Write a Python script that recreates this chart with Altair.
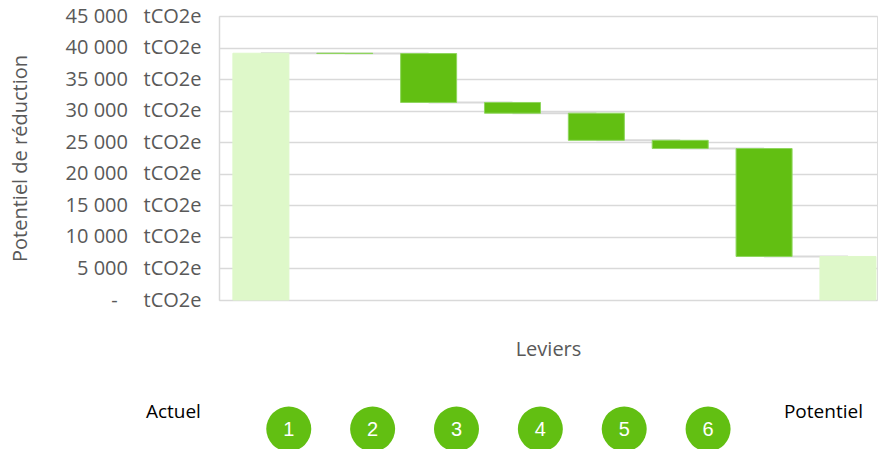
import altair as alt
import pandas as pd

# ---- data ----
categories = ["Actuel", "1", "2", "3", "4", "5", "6", "Potentiel"]
# Actuel total, then reduction of each lever (tCO2e); Potentiel = remainder
actuel_total = 39100
reductions = [50, 7750, 1700, 4300, 1300, 17100]
lever_labels = ["1", "2", "3", "4", "5", "6"]
bottom_labels = ["Actuel", "Potentiel"]

# ---- build waterfall table ----
rows = []
level = actuel_total
rows.append({"cat": "Actuel", "kind": "total", "start": 0, "end": actuel_total})
for lab, r in zip(lever_labels, reductions):
    rows.append({"cat": lab, "kind": "reduction", "start": level, "end": level - r})
    level -= r
rows.append({"cat": "Potentiel", "kind": "total", "start": 0, "end": level})
df = pd.DataFrame(rows)

conn = []
for i in range(len(rows) - 1):
    conn.append({"cat": rows[i]["cat"], "next": rows[i + 1]["cat"], "level": rows[i]["end"]})
conn_df = pd.DataFrame(conn)

text_df = pd.DataFrame({"cat": bottom_labels})
circ_df = pd.DataFrame({"cat": lever_labels})

DARK = "#62BF12"
LIGHT = "#DEF8C9"
GRID = "#D9D9D9"
AXIS_TXT = "#595959"
FONT = "Open Sans"
nb = "\u00a0"

xscale = alt.Scale(domain=categories, paddingInner=0.332, paddingOuter=0.089, align=0.93)
yscale = alt.Scale(domain=[0, 45000])

label_expr = (
    f"(datum.value == 0 ? '-{nb*5}' : replace(format(datum.value, ','), ',', '{nb}') + '{nb*3}') + 'tCO2e'"
)

x_axis = alt.Axis(
    labels=False, ticks=False, domain=False, grid=False,
    title="Leviers", titleFont=FONT, titleFontSize=20, titleFontWeight="normal",
    titleColor=AXIS_TXT, titlePadding=39,
)
y_axis = alt.Axis(
    values=list(range(0, 45001, 5000)), labelExpr=label_expr,
    labelFont=FONT, labelFontSize=20, labelColor=AXIS_TXT, labelPadding=18,
    ticks=False, domain=True, domainColor=GRID, domainWidth=1.5,
    grid=True, gridColor=GRID, gridWidth=1.5,
    title="Potentiel de réduction", titleFont=FONT, titleFontSize=20,
    titleFontWeight="normal", titleColor=AXIS_TXT, titlePadding=35,
)

base = alt.Chart(df)

connectors = alt.Chart(conn_df).mark_rule(color=GRID, strokeWidth=2).encode(
    x=alt.X("cat:N", scale=xscale, sort=categories, axis=x_axis),
    x2="next:N",
    y=alt.Y("level:Q", scale=yscale, axis=y_axis),
)

bars = base.mark_bar(strokeWidth=1).encode(
    x=alt.X("cat:N", scale=xscale, sort=categories, axis=x_axis),
    y=alt.Y("start:Q", scale=yscale, axis=y_axis),
    y2="end:Q",
    color=alt.Color("kind:N", scale=alt.Scale(domain=["total", "reduction"], range=[LIGHT, DARK]), legend=None),
    stroke=alt.Stroke("kind:N", scale=alt.Scale(domain=["total", "reduction"], range=[LIGHT, "#8FD65E"]), legend=None),
)

text_actuel = alt.Chart(text_df).transform_filter(alt.datum.cat == "Actuel").mark_text(
    font=FONT, fontSize=19, color="#000000", baseline="middle", align="right", xOffset=-60
).encode(
    x=alt.X("cat:N", scale=xscale, sort=categories),
    y=alt.value(396),
    text="cat:N",
)

text_potentiel = alt.Chart(text_df).transform_filter(alt.datum.cat == "Potentiel").mark_text(
    font=FONT, fontSize=19, color="#000000", baseline="middle", align="left", xOffset=-64
).encode(
    x=alt.X("cat:N", scale=xscale, sort=categories),
    y=alt.value(396),
    text="cat:N",
)

circles = alt.Chart(circ_df).mark_point(
    shape="circle", filled=True, size=2025, color=DARK, opacity=1, xOffset=-56
).encode(
    x=alt.X("cat:N", scale=xscale, sort=categories),
    y=alt.value(413),
)

circle_nums = alt.Chart(circ_df).mark_text(
    font="Liberation Sans", fontSize=20, color="white", baseline="middle", xOffset=-56, yOffset=1
).encode(
    x=alt.X("cat:N", scale=xscale, sort=categories),
    y=alt.value(413),
    text="cat:N",
)

chart = alt.layer(connectors, bars, text_actuel, text_potentiel, circles, circle_nums).properties(
    width=658, height=284,
    autosize=alt.AutoSizeParams(type="none"),
    padding={"left": 219, "top": 16, "right": 2, "bottom": 149},
).configure_view(stroke=None).configure(background="white")

chart.save("out.html", embed_options={"renderer": "svg", "actions": False})
